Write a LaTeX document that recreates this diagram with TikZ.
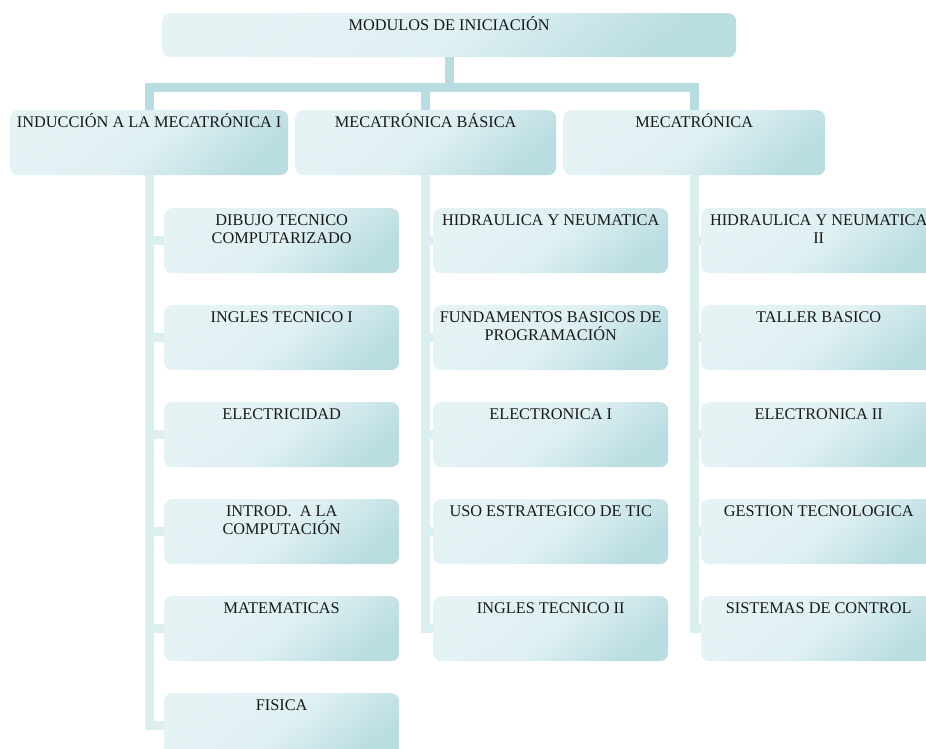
\documentclass[tikz,border=0pt]{standalone}
\usepackage{fontspec}
\setmainfont{Liberation Serif}
\definecolor{boxlight}{RGB}{229,243,245}
\definecolor{boxdark}{RGB}{186,221,225}
\definecolor{topline}{RGB}{183,221,225}
\definecolor{lowline}{RGB}{219,238,240}
\definecolor{txtcol}{RGB}{25,25,25}
\tikzset{
  boxnode/.style={rounded corners=8pt, inner sep=0pt, anchor=north west,
    top color=boxlight, bottom color=boxdark, middle color=boxlight!88!boxdark, shading angle=40},
  topbox/.style={boxnode, minimum width=574pt, minimum height=44pt},
  lvlbox/.style={boxnode, minimum height=65pt},
  kidbox/.style={boxnode, minimum width=235pt, minimum height=65pt},
  txt/.style={anchor=north, inner sep=0pt, align=center, text=txtcol,
    font=\fontsize{16.3}{18}\selectfont},
  upline/.style={draw=topline, line width=9pt, line join=miter},
  dnline/.style={draw=lowline, line width=9pt, line join=miter},
}
\newcommand{\fr}{\rule{0pt}{15pt}}
\begin{document}
\begin{tikzpicture}[x=1pt, y=-1pt]
\useasboundingbox (0,0) rectangle (926,749);
\clip (0,0) rectangle (926,749);
\coordinate (bar) at (0,87.5);
% boxes
\node[topbox] (top) at (162,13) {};
\node[lvlbox, minimum width=278pt] (A) at (10,110) {};
\node[lvlbox, minimum width=261pt] (B) at (295,110) {};
\node[lvlbox, minimum width=262pt] (C) at (563,110) {};
\foreach \i/\y in {1/208,2/305,3/402,4/499,5/596,6/693}{
  \node[kidbox] (a\i) at (164,\y) {};
}
\foreach \i/\y in {1/208,2/305,3/402,4/499,5/596}{
  \node[kidbox] (b\i) at (433,\y) {};
  \node[kidbox] (c\i) at (701,\y) {};
}
% connectors
\draw[upline] (top.south) -- (top.south |- bar);
\draw[upline] (A.north) -- (A.north |- bar) -- (C.north |- bar) -- (C.north);
\draw[upline] (B.north) -- (B.north |- bar);
\draw[dnline] (A.south) -- (A.south |- a6.west) -- (a6.west);
\foreach \i in {1,...,5}{\draw[dnline] (A.south |- a\i.west) -- (a\i.west);}
\draw[dnline] (B.south) -- (B.south |- b5.west) -- (b5.west);
\foreach \i in {1,...,4}{\draw[dnline] (B.south |- b\i.west) -- (b\i.west);}
\draw[dnline] (C.south) -- (C.south |- c5.west) -- (c5.west);
\foreach \i in {1,...,4}{\draw[dnline] (C.south |- c\i.west) -- (c\i.west);}
% texts
\node[txt] (ttop) at ([yshift=-2.5pt]top.north) {\fr MODULOS DE INICIACIÓN};
\node[txt] (tA) at ([yshift=-2.5pt]A.north) {\fr INDUCCIÓN A LA MECATRÓNICA I};
\node[txt] (tB) at ([yshift=-2.5pt]B.north) {\fr MECATRÓNICA BÁSICA};
\node[txt] (tC) at ([yshift=-2.5pt]C.north) {\fr MECATRÓNICA};
\node[txt] (ta1) at ([yshift=-2.5pt]a1.north) {\fr DIBUJO TECNICO\\COMPUTARIZADO};
\node[txt] (ta2) at ([yshift=-2.5pt]a2.north) {\fr INGLES TECNICO I};
\node[txt] (ta3) at ([yshift=-2.5pt]a3.north) {\fr ELECTRICIDAD};
\node[txt] (ta4) at ([yshift=-2.5pt]a4.north) {\fr INTROD.\ \ A LA\\COMPUTACIÓN};
\node[txt] (ta5) at ([yshift=-2.5pt]a5.north) {\fr MATEMATICAS};
\node[txt] (ta6) at ([yshift=-2.5pt]a6.north) {\fr FISICA};
\node[txt] (tb1) at ([yshift=-2.5pt]b1.north) {\fr HIDRAULICA Y NEUMATICA};
\node[txt] (tb2) at ([yshift=-2.5pt]b2.north) {\fr FUNDAMENTOS BASICOS DE\\PROGRAMACIÓN};
\node[txt] (tb3) at ([yshift=-2.5pt]b3.north) {\fr ELECTRONICA I};
\node[txt] (tb4) at ([yshift=-2.5pt]b4.north) {\fr USO ESTRATEGICO DE TIC};
\node[txt] (tb5) at ([yshift=-2.5pt]b5.north) {\fr INGLES TECNICO II};
\node[txt] (tc1) at ([yshift=-2.5pt]c1.north) {\fr HIDRAULICA Y NEUMATICA\\II};
\node[txt] (tc2) at ([yshift=-2.5pt]c2.north) {\fr TALLER BASICO};
\node[txt] (tc3) at ([yshift=-2.5pt]c3.north) {\fr ELECTRONICA II};
\node[txt] (tc4) at ([yshift=-2.5pt]c4.north) {\fr GESTION TECNOLOGICA};
\node[txt] (tc5) at ([yshift=-2.5pt]c5.north) {\fr SISTEMAS DE CONTROL};
\end{tikzpicture}
\end{document}
